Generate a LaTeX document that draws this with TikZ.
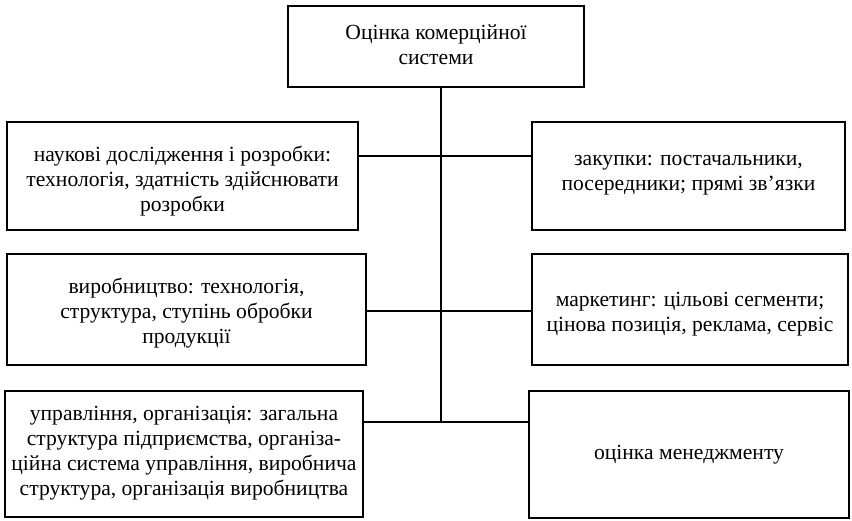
\documentclass[tikz,border=0pt]{standalone}
\usepackage{fontspec}
\setmainfont{Liberation Serif}
\begin{document}
\begin{tikzpicture}[x=1pt,y=-1pt,
  box/.style={draw, line width=1.2pt, rectangle, inner sep=0pt},
  txt/.style={align=center, inner sep=0pt, font=\fontsize{21.6}{25}\selectfont},
  conn/.style={line width=1.2pt}]
\useasboundingbox (0,0) rectangle (852,521);
\node[box, minimum width=296pt, minimum height=81pt] (top) at (436,46.5) {};
\node[txt] (topt) at (436,44.5) {Оцінка комерційної\\системи};
\node[box, minimum width=351pt, minimum height=108pt] (l1) at (182.5,176) {};
\node[txt] (l1t) at (182.5,181) {наукові дослідження і розробки:\\технологія, здатність здійснювати\\розробки};
\node[box, minimum width=313pt, minimum height=108pt] (r1) at (688.5,176) {};
\node[txt] (r1t) at (688.5,175) {закупки: постачальники,\\посередники; прямі зв’язки};
\node[box, minimum width=359pt, minimum height=111pt] (l2) at (186.5,309.5) {};
\node[txt] (l2t) at (186.5,313) {виробництво: технологія,\\структура, ступінь обробки\\продукції};
\node[box, minimum width=316pt, minimum height=111pt] (r2) at (690,309.5) {};
\node[txt] (r2t) at (690,314.5) {маркетинг: цільові сегменти;\\цінова позиція, реклама, сервіс};
\node[box, minimum width=358pt, minimum height=126pt] (l3) at (184,454) {};
\node[txt] (l3t) at (184,453.5) {управління, організація: загальна\\структура підприємства, організа-\\ційна система управління, виробнича\\структура, організація виробництва};
\node[box, minimum width=320pt, minimum height=127pt] (r3) at (689,454.5) {};
\node[txt] (r3t) at (689,455) {оцінка менеджменту};
\coordinate (j1) at (441,156);
\coordinate (j2) at (441,311);
\coordinate (j3) at (441,422);
\draw[conn] (top.south -| j1) -- (j3);
\draw[conn] (l1.east |- j1) -- (r1.west |- j1);
\draw[conn] (l2.east |- j2) -- (r2.west |- j2);
\draw[conn] (l3.east |- j3) -- (r3.west |- j3);
\end{tikzpicture}
\end{document}
